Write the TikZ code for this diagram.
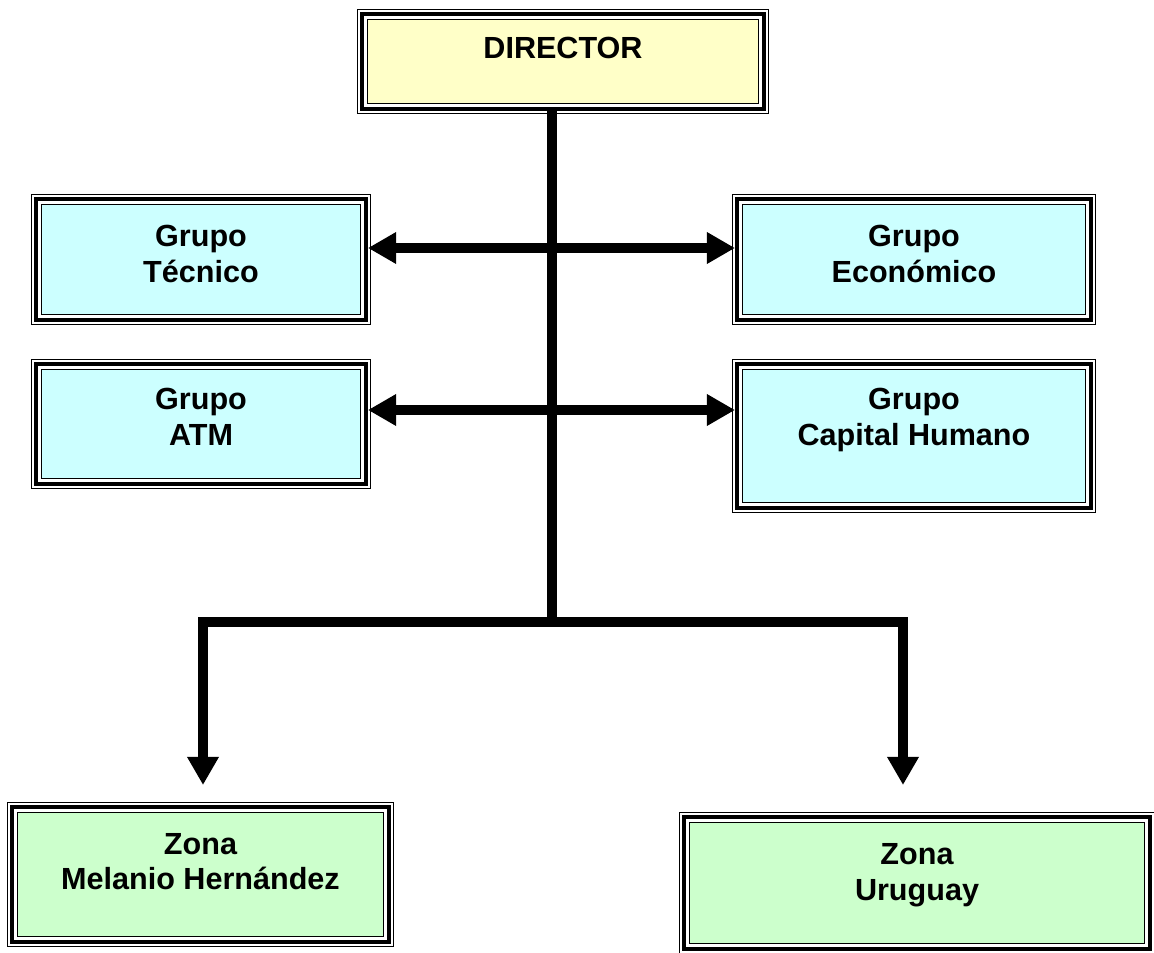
\documentclass[tikz,border=0pt]{standalone}
\usepackage{fontspec}
\setmainfont{Liberation Sans}
\usetikzlibrary{arrows.meta,backgrounds}

\definecolor{dirfill}{RGB}{255,255,200}
\definecolor{grpfill}{RGB}{204,255,255}
\definecolor{zonfill}{RGB}{204,255,204}

\begin{document}
\begin{tikzpicture}[x=0.02cm,y=-0.02cm,
	box/.style={draw,line width=2.3pt,inner sep=0pt,align=center,
		font=\fontsize{17.4}{20.4}\selectfont\bfseries},
	link/.style={line width=5.5pt},
	>={Triangle[length=16pt,width=17pt]}]
	\useasboundingbox (0,0) rectangle (1154,953);

	\node[box,minimum width=8.04cm,minimum height=1.9cm,text depth=15.3pt] (dir) at (563,61.5) {DIRECTOR};
	\node[box,minimum width=6.6cm,minimum height=2.42cm,text depth=6.2pt] (tec) at (201,259.5) {Grupo\\Técnico};
	\node[box,minimum width=7.08cm,minimum height=2.42cm,text depth=6.2pt] (eco) at (914,259.5) {Grupo\\Económico};
	\node[box,minimum width=6.6cm,minimum height=2.4cm,text depth=8pt] (atm) at (201,424) {Grupo\\ATM};
	\node[box,minimum width=7.08cm,minimum height=2.88cm,text depth=21.6pt] (cap) at (914,436) {Grupo\\Capital Humano};
	\node[box,minimum width=7.54cm,minimum height=2.7cm,text depth=14.8pt] (mel) at (200.5,874.5) {Zona\\Melanio Hernández};
	\node[box,minimum width=9.32cm,minimum height=2.64cm,text depth=13pt] (uru) at (917,883) {Zona\\Uruguay};

	\begin{scope}[on background layer]
		\foreach \n/\c in {dir/dirfill,tec/grpfill,eco/grpfill,atm/grpfill,cap/grpfill,mel/zonfill,uru/zonfill}{
			\draw[line width=0.6pt] ([shift={(-1.3pt,-1.3pt)}]\n.south west) rectangle ([shift={(1.3pt,1.3pt)}]\n.north east);
			\draw[line width=0.8pt,fill=\c] ([shift={(4.2pt,4.2pt)}]\n.south west) rectangle ([shift={(-4.2pt,-4.2pt)}]\n.north east);
		}
	\end{scope}

	\coordinate (junc) at (552,622);
	\coordinate (zonL) at (203,785);
	\coordinate (zonR) at (903,785);

	\draw[link] (dir.south -| junc) -- (junc);
	\path[link,<->]
	(tec.east |- 0,248) edge (eco.west |- 0,248)
	(atm.east |- 0,410) edge (cap.west |- 0,410);
	\draw[link,->] (junc) -| (zonL);
	\draw[link,->] (junc) -| (zonR);
\end{tikzpicture}
\end{document}
